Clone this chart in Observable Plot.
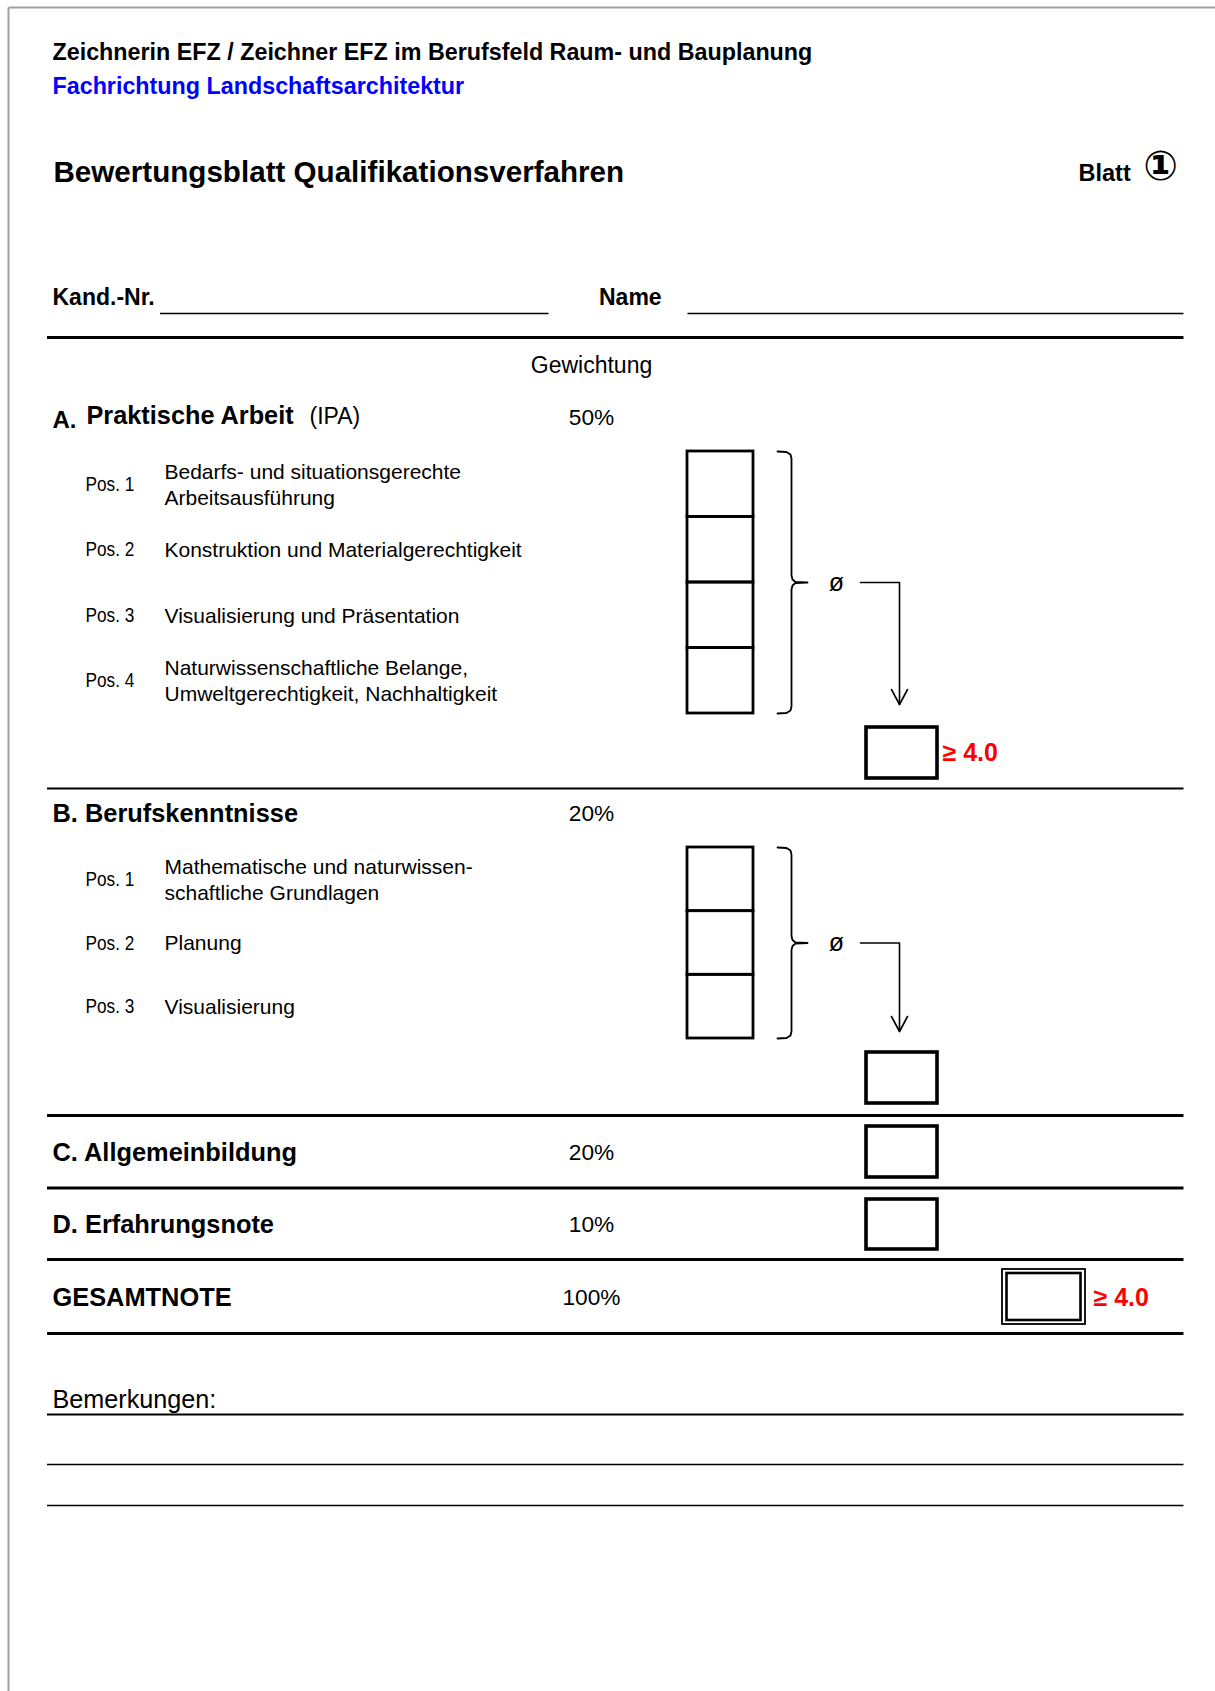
<!DOCTYPE html>
<html>
<head>
<meta charset="utf-8">
<script src="https://cdn.jsdelivr.net/npm/d3@7"></script>
<script src="https://cdn.jsdelivr.net/npm/@observablehq/plot@0.6"></script>
<style>
  html, body { margin: 0; padding: 0; background: #fff; }
  #chart svg { display: block; }
</style>
</head>
<body>
<div id="chart"></div>
<script>
// ---------- data (texts of the form) ----------
const headerLine = "Zeichnerin EFZ / Zeichner EFZ im Berufsfeld Raum- und Bauplanung";
const specialization = "Fachrichtung Landschaftsarchitektur";
const formTitle = "Bewertungsblatt Qualifikationsverfahren";
const sheetLabel = "Blatt";
const sheetNumber = "①";
const fieldLabels = ["Kand.-Nr.", "Name"];
const weightHeader = "Gewichtung";
const sectionLetters = ["A.", "B.", "C.", "D."];
const sectionNames = ["Praktische Arbeit", "Berufskenntnisse", "Allgemeinbildung", "Erfahrungsnote"];
const sectionNote = "(IPA)";
const sectionWeights = ["50%", "20%", "20%", "10%"];
const totalLabel = "GESAMTNOTE";
const totalWeight = "100%";
const positionLabels = ["Pos. 1", "Pos. 2", "Pos. 3", "Pos. 4"];
const positionsA = [
  "Bedarfs- und situationsgerechte\nArbeitsausführung",
  "Konstruktion und Materialgerechtigkeit",
  "Visualisierung und Präsentation",
  "Naturwissenschaftliche Belange,\nUmweltgerechtigkeit, Nachhaltigkeit"
];
const positionsB = [
  "Mathematische und naturwissen-\nschaftliche Grundlagen",
  "Planung",
  "Visualisierung"
];
const averageSymbol = "ø";
const minimumGrade = "≥ 4.0";
const remarksLabel = "Bemerkungen:";
const remarkLineCount = 3;

// ---------- layout ----------
const W = 1215, H = 1691;
const L = {
  borderX: 8, borderY: 7,
  left: 46.5, right: 1183, textX: 52,
  weightX: 591, posLabelX: 85, posTextX: 164,
  cellX1: 687, cellX2: 753,
  braceL: 777, braceV: 791, braceT: 807,
  avgX: 836, arrowX1: 860, arrowX2: 899,
  resX1: 866, resX2: 937, gradeX: 942,
  totX1: 1002, totX2: 1085, totGradeX: 1093,
  headerY: 52, specY: 86, titleY: 172.5, sheetNumY: 166, sheetX: 1078, sheetNumX: 1160,
  fieldY: 297.5, fieldLineY: 313, kandLine: [159.5, 548], nameX: 598.5, nameLine: [687, 1183],
  topRuleY: 337, weightHeaderY: 365.5,
  aY: 415, aCells: [451, 713], aResult: [727, 778], aRule: 788,
  bY: 813, bCells: [847, 1038], bResult: [1052, 1103], bRule: 1115,
  cY: 1152, cBox: [1126, 1177], cRule: 1187.5,
  dY: 1224, dBox: [1199, 1249], dRule: 1259,
  tY: 1297, tBox: [1269, 1324], tRule: 1333,
  remarksY: 1399, remarkLines: [1414, 1464, 1505]
};

const BOLD = "Liberation Sans, Arial, Helvetica, sans-serif";
const NARROW = "Liberation Sans Narrow, Arial Narrow, Liberation Sans, sans-serif";

function cells(range, n) {
  const h = (range[1] - range[0]) / n;
  return d3.range(n).map(i => ({x1: L.cellX1, x2: L.cellX2, y1: range[0] + i * h, y2: range[0] + (i + 1) * h, cy: range[0] + (i + 0.5) * h}));
}
const cellsA = cells(L.aCells, positionsA.length);
const cellsB = cells(L.bCells, positionsB.length);

function brace(range, id) {
  const [y0, y1] = range, m = (y0 + y1) / 2, V = L.braceV;
  return [[L.braceL, y0], [V - 5, y0 + 0.5], [V - 1, y0 + 3], [V, y0 + 7], [V, m - 7], [V + 1, m - 3], [V + 4, m - 0.5], [L.braceT, m],
          [V + 4, m + 0.5], [V + 1, m + 3], [V, m + 7], [V, y1 - 7], [V - 1, y1 - 3], [V - 5, y1 - 0.5], [L.braceL, y1]]
    .map(([x, y]) => ({x, y, id}));
}
function arrow(range, tipY, id) {
  const m = (range[0] + range[1]) / 2;
  return [
    [{x: L.arrowX1, y: m}, {x: L.arrowX2, y: m}, {x: L.arrowX2, y: tipY}].map(d => ({...d, id: id + "s"})),
    [{x: L.arrowX2 - 8, y: tipY - 15}, {x: L.arrowX2, y: tipY}, {x: L.arrowX2 + 8, y: tipY - 15}].map(d => ({...d, id: id + "h"}))
  ].flat();
}

const link = (data, strokeWidth, stroke = "black") =>
  Plot.link(data, {x1: "x1", y1: "y1", x2: "x2", y2: "y2", stroke, strokeWidth});
const hline = (y, x1 = L.left, x2 = L.right) => ({x1, x2, y1: y, y2: y});
const text = (data, o) => Plot.text(data, {x: "x", y: "y", text: "t", fill: "black", textAnchor: "start", lineAnchor: "middle", fontFamily: BOLD, ...o});
const box = (data, strokeWidth) => Plot.rect(data, {x1: "x1", x2: "x2", y1: "y1", y2: "y2", fill: "none", stroke: "black", strokeWidth});

const marks = [
  // page border
  link([{x1: L.borderX, y1: L.borderY, x2: W, y2: L.borderY}, {x1: L.borderX, y1: L.borderY, x2: L.borderX, y2: H}], 2, "#a0a0a0"),
  // header
  text([{x: L.textX, y: L.headerY, t: headerLine}], {fontWeight: "bold", fontSize: 23.3}),
  text([{x: L.textX, y: L.specY, t: specialization}], {fontWeight: "bold", fontSize: 23.3, fill: "#0000ff"}),
  text([{x: L.textX + 1, y: L.titleY, t: formTitle}], {fontWeight: "bold", fontSize: 29.6}),
  text([{x: L.sheetX, y: L.titleY, t: sheetLabel}], {fontWeight: "bold", fontSize: 23.5}),
  text([{x: L.sheetNumX, y: L.sheetNumY, t: sheetNumber}], {textAnchor: "middle", fontSize: 41, fontWeight: "bold", fontFamily: "DejaVu Sans, sans-serif"}),
  // candidate fields
  text([{x: L.textX, y: L.fieldY, t: fieldLabels[0]}, {x: L.nameX, y: L.fieldY, t: fieldLabels[1]}], {fontWeight: "bold", fontSize: 23}),
  link([hline(L.fieldLineY, ...L.kandLine), hline(L.fieldLineY, ...L.nameLine)], 1.5),
  // separator rules
  link([hline(L.topRuleY), hline(L.bRule), hline(L.cRule), hline(L.dRule), hline(L.tRule)], 3),
  link([hline(L.aRule)], 2.2),
  link([hline(L.remarkLines[0])], 1.8),
  link(L.remarkLines.slice(1, remarkLineCount).map(y => hline(y)), 1.4),
  // weights header and values
  text([{x: L.weightX, y: L.weightHeaderY, t: weightHeader}], {textAnchor: "middle", fontSize: 23}),
  text([L.aY + 2, L.bY, L.cY, L.dY].map((y, i) => ({x: L.weightX, y, t: sectionWeights[i]})).concat([{x: L.weightX, y: L.tY, t: totalWeight}]),
       {textAnchor: "middle", fontSize: 22.7}),
  // section A heading
  text([{x: L.textX, y: L.aY + 5, t: sectionLetters[0]}], {fontWeight: "bold", fontSize: 24}),
  text([{x: 86, y: L.aY, t: sectionNames[0]}], {fontWeight: "bold", fontSize: 25.3}),
  text([{x: 309, y: L.aY + 1.5, t: sectionNote}], {fontSize: 23}),
  // sections B, C, D and total headings
  text([L.bY, L.cY, L.dY].map((y, i) => ({x: L.textX, y, t: sectionLetters[i + 1] + " " + sectionNames[i + 1]}))
       .concat([{x: L.textX, y: L.tY, t: totalLabel}]), {fontWeight: "bold", fontSize: 25.4}),
  // positions
  text(cellsA.map((c, i) => ({x: L.posLabelX, y: c.cy, t: positionLabels[i]})).concat(cellsB.map((c, i) => ({x: L.posLabelX, y: c.cy, t: positionLabels[i]}))),
       {fontFamily: NARROW, fontSize: 21}),
  text(cellsA.map((c, i) => ({x: L.posTextX, y: c.cy - 1, t: positionsA[i]})).concat(cellsB.map((c, i) => ({x: L.posTextX, y: c.cy - 1, t: positionsB[i]}))),
       {fontSize: 21, lineHeight: 1.24}),
  // grade cells
  box(cellsA.concat(cellsB), 2.8),
  // braces, average and arrows
  Plot.line(brace(L.aCells, "a").concat(brace(L.bCells, "b")), {x: "x", y: "y", z: "id", stroke: "black", strokeWidth: 1.8, strokeLinejoin: "round"}),
  text([L.aCells, L.bCells].map(r => ({x: L.avgX, y: (r[0] + r[1]) / 2, t: averageSymbol})), {textAnchor: "middle", fontSize: 25}),
  Plot.line(arrow(L.aCells, L.aResult[0] - 23, "a").concat(arrow(L.bCells, L.bResult[0] - 21, "b")), {x: "x", y: "y", z: "id", stroke: "black", strokeWidth: 1.6}),
  // result boxes
  box([L.aResult, L.bResult, L.cBox, L.dBox].map(([y1, y2]) => ({x1: L.resX1, x2: L.resX2, y1, y2})), 3.6),
  box([{x1: L.totX1, x2: L.totX2, y1: L.tBox[0], y2: L.tBox[1]}], 1.8),
  box([{x1: L.totX1 + 4.5, x2: L.totX2 - 4.5, y1: L.tBox[0] + 4, y2: L.tBox[1] - 4}], 2.6),
  // minimum grade
  text([{x: L.gradeX, y: (L.aResult[0] + L.aResult[1]) / 2, t: minimumGrade}, {x: L.totGradeX, y: L.tY, t: minimumGrade}],
       {fontWeight: "bold", fontSize: 25, fill: "#ff0000"}),
  // remarks
  text([{x: L.textX, y: L.remarksY, t: remarksLabel}], {fontSize: 25.2})
];

const chart = Plot.plot({
  width: W, height: H,
  margin: 0,
  x: {type: "linear", domain: [0, W], range: [0, W], axis: null},
  y: {type: "linear", domain: [0, H], range: [0, H], axis: null},
  style: {background: "white", fontFamily: BOLD, overflow: "visible"},
  marks
});
document.getElementById("chart").appendChild(chart);

// condense the "Pos. n" labels (narrow face in the original)
d3.select(chart).selectAll("text")
  .filter(function () { return positionLabels.includes(this.textContent); })
  .each(function () {
    const t = this.getAttribute("transform");
    if (t) this.setAttribute("transform", t + " scale(0.82,1)");
    else {
      const x = +this.getAttribute("x") || 0;
      this.setAttribute("transform", `translate(${x},0) scale(0.82,1) translate(${-x},0)`);
    }
  });
</script>
</body>
</html>
